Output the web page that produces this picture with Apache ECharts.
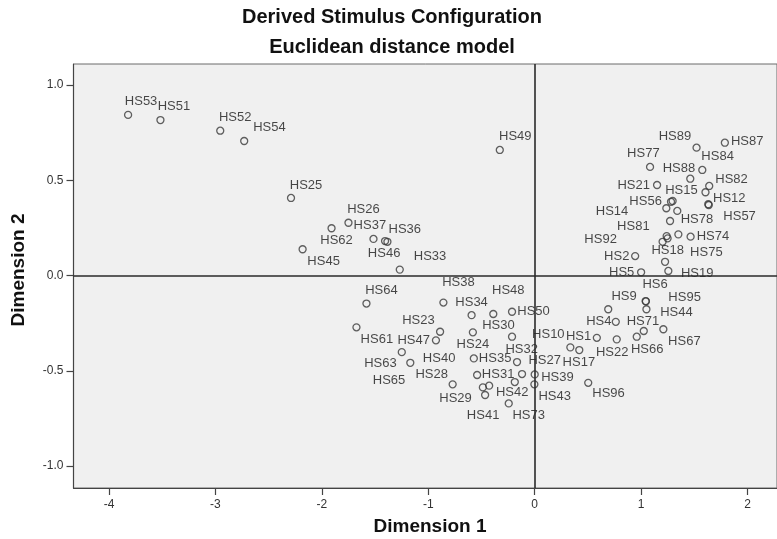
<!DOCTYPE html>
<html>
<head>
<meta charset="utf-8">
<script src="https://cdn.jsdelivr.net/npm/echarts@6/dist/echarts.min.js"></script>
<style>html,body{margin:0;padding:0;background:#fff}#c{width:777px;height:539px}</style>
</head>
<body>
<div id="c"></div>
<script>
// ---- data ----
const stimulusNames = ['HS53','HS51','HS52','HS54','HS25','HS26','HS62','HS37','HS36','HS46','HS45','HS33','HS49','HS64','HS38','HS34','HS48','HS50','HS23','HS47','HS61','HS24','HS30','HS32','HS63','HS65','HS40','HS35','HS31','HS27','HS39','HS43','HS28','HS29','HS42','HS41','HS73','HS96','HS2','HS5','HS18','HS19','HS75','HS6','HS95','HS44','HS9','HS4','HS71','HS66','HS67','HS1','HS22','HS10','HS17','HS89','HS87','HS84','HS88','HS77','HS21','HS82','HS15','HS12','HS57','HS56','HS14','HS78','HS81','HS74','HS92'];
const dimension1 = [-3.821,-3.517,-2.955,-2.730,-2.290,-1.750,-1.909,-1.515,-1.406,-1.384,-2.181,-1.268,-0.328,-1.581,-0.858,-0.593,-0.389,-0.213,-0.889,-0.928,-1.675,-0.581,-0.213,-0.166,-1.249,-1.169,-0.187,-0.572,-0.541,-0.119,0.000,-0.003,-0.771,-0.487,-0.428,-0.466,-0.244,0.503,0.944,1.000,1.225,1.256,1.350,1.043,1.045,1.050,0.691,0.762,1.025,0.959,1.209,0.584,0.771,0.335,0.419,1.521,1.787,1.575,1.462,1.084,1.150,1.640,1.605,1.631,1.636,1.296,1.237,1.340,1.272,1.465,1.202];
const dimension2 = [0.843,0.816,0.760,0.706,0.407,0.277,0.248,0.192,0.181,0.177,0.138,0.031,0.659,-0.147,-0.142,-0.208,-0.202,-0.190,-0.295,-0.340,-0.272,-0.298,-0.321,-0.454,-0.402,-0.458,-0.559,-0.435,-0.522,-0.517,-0.519,-0.571,-0.571,-0.587,-0.578,-0.627,-0.671,-0.563,0.102,0.017,0.072,0.024,0.216,-0.134,-0.136,-0.177,-0.177,-0.243,-0.291,-0.321,-0.282,-0.327,-0.335,-0.377,-0.391,0.671,0.697,0.554,0.508,0.570,0.475,0.470,0.437,0.374,0.370,0.391,0.353,0.339,0.286,0.204,0.177];
// overlapping points whose labels are hidden under others
const hiddenDim1 = [1.240,1.249,1.281];
const hiddenDim2 = [0.207,0.195,0.387];
const xTicks = [-4,-3,-2,-1,0,1,2];
const yTicks = [-1.0,-0.5,0.0,0.5,1.0];

// ---- label placement (style) ----
const labelOffsets = {
 HS53:[13,-13],HS51:[13.5,-14],HS52:[15,-13.4],HS54:[25.3,-13.3],HS25:[15,-13],HS26:[15,-13.4],HS62:[5,11.7],
 HS37:[-3.6,-14],HS36:[19.7,-12],HS46:[-3.3,11.6],HS45:[21,11.7],HS33:[30.3,-12.8],HS49:[15.5,-14],HS64:[15,-12.8],
 HS38:[15,-20],HS34:[0,-12.5],HS48:[15,-23.3],HS50:[21.5,0],HS23:[-21.6,-11],HS47:[-22.3,0.4],HS61:[20.4,11.7],
 HS24:[0,12],HS30:[-13.6,-11.4],HS32:[4.7,-13],HS63:[-21.4,11.7],HS65:[-21.3,18],HS40:[-75.7,-24],HS35:[21.3,0],
 HS31:[21,-1],HS27:[22.7,-13.3],HS39:[22.7,2.5],HS43:[20.3,11.7],HS28:[-21,-10.3],HS29:[-27.3,11],HS42:[23,7],
 HS41:[-2,20],HS73:[20,11.7],HS96:[20.3,10.6],HS2:[-18.4,0],HS5:[-19.4,0],HS18:[2.6,-11.7],HS19:[28.8,2.3],
 HS75:[28,18],HS6:[9.4,-16.7],HS95:[38.7,-4.2],HS44:[30,3.4],HS9:[15.8,-12.6],HS4:[-17,-0.7],HS71:[-0.8,-10],
 HS66:[10.4,12.3],HS67:[21,11.7],HS1:[-18.3,-1],HS22:[-4.6,13],HS10:[-22,-13],HS17:[-0.4,12.3],HS89:[-21.6,-11.7],
 HS87:[22.3,-1],HS84:[15.3,-14],HS88:[-11.3,-10.4],HS77:[-6.7,-13.7],HS21:[-23.4,0],HS82:[22.3,-6.7],HS15:[-24,-1.6],
 HS12:[21,-6],HS57:[30.8,11.7],HS56:[-27,0],HS14:[-54.3,3.4],HS78:[19.7,8.3],HS81:[-36.7,5.7],HS74:[22.4,0],HS92:[-62,-2.7]
};

const FONT = "Arial, 'Liberation Sans', sans-serif";
const pointData = stimulusNames.map((n, i) => ({
  name: n,
  value: [dimension1[i], dimension2[i]],
  label: { offset: labelOffsets[n] || [0, -12] }
}));
const hiddenData = hiddenDim1.map((x, i) => [x, hiddenDim2[i]]);

const chart = echarts.init(document.getElementById('c'), null, { renderer: 'canvas' });
const symbolStyle = { color: 'transparent', borderColor: '#3a3a3a', borderWidth: 1.3 };
chart.setOption({
  animation: false,
  backgroundColor: '#ffffff',
  grid: { left: 73.5, top: 64, right: -2, bottom: 51, show: true, backgroundColor: '#f0f0f0', borderColor: '#6a6a6a', borderWidth: 1 },
  xAxis: {
    type: 'value', min: -4.334, max: 2.277,
    axisLine: { show: true, onZero: false, lineStyle: { color: '#444', width: 1.2 } },
    axisTick: { show: true, length: 7, lineStyle: { color: '#444', width: 1.2 }, customValues: xTicks },
    axisLabel: { customValues: xTicks, margin: 11, color: '#333', fontSize: 12, fontFamily: FONT, formatter: v => String(v) },
    splitLine: { show: false }
  },
  yAxis: {
    type: 'value', min: -1.115, max: 1.11,
    axisLine: { show: true, onZero: false, lineStyle: { color: '#444', width: 1.2 } },
    axisTick: { show: true, length: 7, lineStyle: { color: '#444', width: 1.2 }, customValues: yTicks },
    axisLabel: { customValues: yTicks, margin: 10, color: '#333', fontSize: 12, fontFamily: FONT, formatter: v => Number(v).toFixed(1) },
    splitLine: { show: false }
  },
  graphic: [
    { type: 'text', x: 392, y: 17, style: { text: 'Derived Stimulus Configuration', fill: '#111', fontSize: 20, fontWeight: 'bold', fontFamily: FONT, align: 'center', verticalAlign: 'middle' } },
    { type: 'text', x: 392, y: 47, style: { text: 'Euclidean distance model', fill: '#111', fontSize: 20, fontWeight: 'bold', fontFamily: FONT, align: 'center', verticalAlign: 'middle' } },
    { type: 'text', x: 430, y: 527, style: { text: 'Dimension 1', fill: '#111', fontSize: 19, fontWeight: 'bold', fontFamily: FONT, align: 'center', verticalAlign: 'middle' } },
    { type: 'text', x: 19, y: 270, rotation: Math.PI / 2, style: { text: 'Dimension 2', fill: '#111', fontSize: 19, fontWeight: 'bold', fontFamily: FONT, align: 'center', verticalAlign: 'middle' } }
  ],
  series: [
    {
      type: 'scatter', name: 'hidden', data: hiddenData, symbol: 'circle', symbolSize: 7,
      itemStyle: symbolStyle, silent: true, z: 3
    },
    {
      type: 'scatter', name: 'stimuli', data: pointData, symbol: 'circle', symbolSize: 7,
      itemStyle: symbolStyle, z: 3,
      label: { show: true, position: 'inside', formatter: p => p.name, color: '#1a1a1a', fontSize: 13, fontFamily: FONT, align: 'center', verticalAlign: 'middle' },
      markLine: {
        silent: true, symbol: ['none', 'none'], label: { show: false },
        lineStyle: { color: '#2a2a2a', width: 1.6, type: 'solid' },
        data: [{ xAxis: 0 }, { yAxis: 0 }]
      }
    }
  ]
});
</script>
</body>
</html>
